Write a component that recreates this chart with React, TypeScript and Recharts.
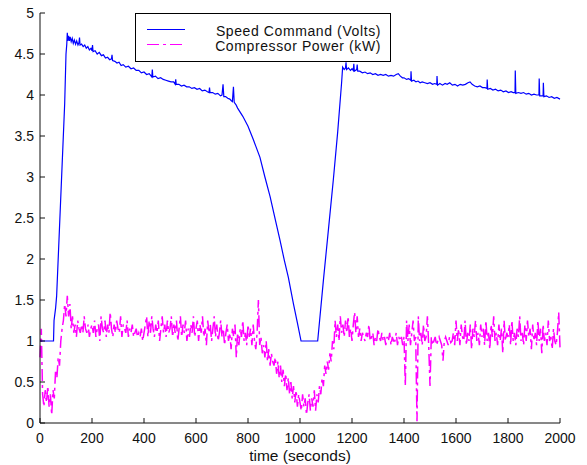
import { LineChart, Line, XAxis, YAxis, Legend } from 'recharts';

// speed command (Volts) at irregular times
const speedTime = [
  0, 52, 54, 60, 64, 95, 100, 103, 105, 107,
  110, 113, 116, 120, 124, 128, 132, 137, 141, 146, 150, 152, 154, 160, 166, 172, 178, 184, 190, 196,
  200, 202, 204, 212, 220, 228, 236, 244, 252, 260, 268, 275, 277, 279, 288, 296, 304, 312, 320, 330,
  340, 350, 360, 370, 380, 390, 400, 410, 420, 430, 432, 434, 444, 454, 464, 474, 484, 494, 504, 514,
  520, 522, 524, 534, 544, 554, 564, 574, 584, 594, 604, 614, 624, 634, 644, 650, 652, 654, 664, 674,
  684, 694, 700, 704, 707, 714, 722, 730, 736, 740, 744, 747, 754, 760,
  780, 800, 820, 846, 865, 885, 905, 923, 940, 955, 975, 990, 1004, 1068, 1090, 1110, 1128, 1145, 1160,
  1164, 1170, 1175, 1177, 1179, 1186, 1194, 1200, 1205, 1207, 1209, 1218, 1220, 1222, 1230, 1240, 1250, 1260, 1270, 1280,
  1290, 1300, 1310, 1320, 1330, 1340, 1350, 1360, 1370, 1378, 1386, 1394, 1400, 1410, 1418, 1426, 1427, 1429, 1438, 1446,
  1454, 1462, 1470, 1480, 1490, 1500, 1510, 1518, 1526, 1527, 1529, 1538, 1548, 1558, 1566, 1576, 1586, 1596, 1606, 1616,
  1626, 1636, 1646, 1654, 1662, 1672, 1682, 1692, 1702, 1712, 1719, 1720, 1722, 1732, 1742, 1752, 1762, 1772, 1782, 1792,
  1802, 1812, 1820, 1827, 1828, 1830, 1840, 1850, 1860, 1870, 1880, 1890, 1900, 1910, 1919, 1920, 1922, 1935, 1936, 1938,
  1948, 1958, 1968, 1978, 1988, 2000,
];
const speedVolts = [
  1.0, 1.0, 1.25, 1.4, 1.55, 3.9, 4.5, 4.62, 4.76, 4.66,
  4.72, 4.66, 4.71, 4.65, 4.69, 4.63, 4.67, 4.62, 4.66, 4.61, 4.64, 4.7, 4.61, 4.62, 4.59, 4.61, 4.57, 4.59, 4.55, 4.57,
  4.54, 4.61, 4.53, 4.54, 4.5, 4.52, 4.48, 4.49, 4.45, 4.46, 4.43, 4.44, 4.49, 4.42, 4.41, 4.39, 4.4, 4.36, 4.37, 4.34,
  4.35, 4.32, 4.33, 4.3, 4.3, 4.27, 4.28, 4.25, 4.26, 4.22, 4.31, 4.22, 4.23, 4.2, 4.21, 4.19, 4.18, 4.17, 4.16, 4.16,
  4.13, 4.19, 4.13, 4.13, 4.11, 4.12, 4.1, 4.1, 4.08, 4.09, 4.07, 4.08, 4.05, 4.06, 4.04, 4.03, 4.09, 4.03, 4.03, 4.01,
  4.02, 3.99, 4.0, 4.13, 3.98, 3.98, 3.96, 3.95, 3.93, 3.92, 4.1, 3.91, 3.88, 3.84,
  3.74, 3.62, 3.46, 3.24, 3.0, 2.76, 2.48, 2.23, 1.98, 1.78, 1.45, 1.22, 1.0, 1.0, 1.74, 2.38, 2.96, 3.55, 4.15,
  4.34, 4.31, 4.33, 4.4, 4.31, 4.33, 4.3, 4.32, 4.3, 4.38, 4.29, 4.31, 4.37, 4.29, 4.29, 4.27, 4.28, 4.26, 4.27, 4.25,
  4.26, 4.24, 4.25, 4.24, 4.25, 4.23, 4.24, 4.23, 4.25, 4.26, 4.23, 4.21, 4.21, 4.19, 4.2, 4.18, 4.29, 4.17, 4.18, 4.16,
  4.17, 4.15, 4.16, 4.15, 4.14, 4.15, 4.13, 4.14, 4.13, 4.23, 4.12, 4.14, 4.12, 4.14, 4.13, 4.15, 4.12, 4.13, 4.11, 4.13,
  4.12, 4.13, 4.15, 4.16, 4.13, 4.11, 4.1, 4.11, 4.09, 4.09, 4.08, 4.19, 4.07, 4.08, 4.06, 4.07, 4.05, 4.06, 4.04, 4.05,
  4.03, 4.04, 4.03, 4.03, 4.3, 4.02, 4.03, 4.02, 4.03, 4.01, 4.02, 4.0, 4.01, 4.0, 4.0, 4.2, 3.99, 3.99, 4.15, 3.98,
  3.99, 3.97, 3.98, 3.96, 3.97, 3.95,
];

// compressor power (kW), one reading every 5 seconds from 0 to 2000
const powerStep = 5;
const powerKw = [
  0.8, 1.15, 0.35, 0.2, 0.4, 0.25, 0.45, 0.2, 0.35, 0.1, 0.4,
  0.3, 0.65, 0.55, 0.8, 0.7, 1.0, 1.15, 1.25, 1.45, 1.3, 1.55, 1.3,
  1.45, 1.15, 1.3, 1.1, 1.2, 1.05, 1.25, 1.15, 1.1, 1.2, 1.1, 1.3, 1.15, 1.1, 1.2, 1.05, 1.15, 1.2,
  1.1, 1.25, 1.05, 1.15, 1.2, 1.0, 1.3, 1.15, 1.1, 1.25, 1.05, 1.2, 1.1, 1.35, 1.15, 1.05, 1.2, 1.1, 1.25, 1.15,
  1.1, 1.3, 1.05, 1.2, 1.15, 1.1, 1.25, 1.05, 1.15, 1.1, 1.2, 1.05, 1.1, 1.15, 1.05, 1.1, 1.05, 1.15, 1.0, 1.1,
  1.2, 1.3, 1.05, 1.25, 1.1, 1.3, 1.15, 1.05, 1.2, 1.1, 1.25, 1.0, 1.15, 1.3, 1.1, 1.2, 1.05, 1.25, 1.1, 1.15,
  1.3, 1.05, 1.2, 1.1, 1.25, 1.0, 1.15, 1.3, 1.05, 1.2, 1.1, 1.25, 1.0, 1.15, 1.05, 1.2, 1.1, 1.3, 1.05, 1.15,
  1.25, 1.0, 1.2, 1.1, 1.3, 1.05, 1.15, 0.95, 1.25, 1.1, 1.2, 1.0, 1.15, 1.3, 1.05, 1.2, 1.0, 1.1, 1.25, 1.05,
  1.15, 0.95, 1.1, 1.2, 1.0, 1.1, 0.9, 1.15, 1.05, 1.2, 0.8, 1.1, 0.95, 1.15, 1.05, 1.25, 1.0, 1.1, 0.95, 1.2,
  1.05, 1.15, 0.95, 1.2, 1.0, 0.9, 1.1, 1.5, 0.95, 1.05, 0.85, 0.95, 0.8, 1.0, 0.75, 0.9, 0.7, 0.85, 0.75, 0.7,
  0.8, 0.6, 0.75, 0.55, 0.7, 0.5, 0.65, 0.45, 0.6, 0.4, 0.55, 0.35, 0.5, 0.3, 0.45, 0.25, 0.4, 0.2, 0.35, 0.25,
  0.15, 0.35, 0.2, 0.3, 0.1, 0.25, 0.35, 0.15, 0.3, 0.2, 0.4, 0.15, 0.35, 0.25, 0.45, 0.35, 0.55, 0.45, 0.7, 0.6,
  0.75, 0.65, 0.85, 0.75, 1.0, 0.9, 1.25, 1.05, 1.2, 1.0, 1.3, 1.1, 1.2, 1.05, 1.25, 1.1, 1.3, 1.05, 1.15, 1.0,
  1.2, 1.35, 1.1, 1.3, 1.05, 1.15, 1.0, 1.1, 1.05, 1.0, 1.1, 1.05, 1.2, 1.0, 1.05, 1.1, 0.95, 1.05, 1.0, 1.15,
  1.05, 1.0, 1.1, 1.0, 1.05, 0.95, 1.05, 1.0, 1.1, 0.95, 1.05, 1.0, 1.0, 1.1, 0.95, 1.05, 1.0, 1.05, 0.95, 1.05,
  0.45, 1.25, 1.0, 1.2, 0.95, 1.1, 1.25, 1.0, 1.05, 0.02, 1.3, 1.0, 1.1, 0.95, 1.2, 1.0, 1.05, 1.3, 0.95, 0.45,
  1.05, 0.95, 1.0, 1.05, 0.95, 1.0, 1.05, 1.0, 0.95, 0.76, 1.0, 1.05, 1.0, 0.95, 1.05, 0.98, 1.0, 1.1, 0.95, 1.25,
  1.0, 1.15, 0.95, 1.2, 1.05, 1.0, 1.25, 0.95, 1.1, 1.0, 1.2, 0.9, 1.15, 1.05, 1.25, 1.0, 1.1, 0.95, 1.2, 1.05,
  1.15, 0.95, 1.25, 1.0, 1.1, 0.9, 1.2, 1.05, 1.3, 1.0, 1.1, 0.95, 1.2, 1.0, 1.15, 0.85, 1.25, 1.0, 1.1, 1.05,
  1.2, 0.95, 1.25, 1.0, 1.1, 0.95, 1.15, 1.05, 1.3, 1.0, 1.1, 0.95, 1.2, 1.0, 1.25, 1.05, 1.15, 0.9, 1.2, 1.0,
  1.1, 0.95, 1.25, 1.0, 1.15, 0.85, 1.2, 1.0, 1.1, 0.95, 1.25, 1.0, 1.05, 0.9, 1.15, 1.0, 0.95, 1.1, 1.35, 0.92,
];

const timeTicks = [0, 200, 400, 600, 800, 1000, 1200, 1400, 1600, 1800, 2000];
const valueTicks = [0, 0.5, 1, 1.5, 2, 2.5, 3, 3.5, 4, 4.5, 5];

const seriesNames = ['Speed Command (Volts)', 'Compressor Power (kW)'];
const seriesColors = ['#0000ff', '#ff00ff'];

const speedData = speedTime.map((t, i) => ({ t, v: speedVolts[i] }));
const powerData = powerKw.map((v, i) => ({ t: i * powerStep, v }));

const FONT = '"Liberation Sans", Arial, Helvetica, sans-serif';
const INK = '#111';
const DASH = '12 4 3 4';

const BottomTick = (props: any) => {
  const { x, y, payload } = props;
  return (
    <g>
      <line x1={x} y1={y} x2={x} y2={y - 5} stroke={INK} />
      <text x={x} y={y + 20} textAnchor="middle" fontSize={14} fontFamily={FONT} fill={INK}>
        {payload.value}
      </text>
    </g>
  );
};

const LeftTick = (props: any) => {
  const { x, y, payload } = props;
  return (
    <g>
      <line x1={x} y1={y} x2={x + 5} y2={y} stroke={INK} />
      <text x={x - 6} y={y + 5} textAnchor="end" fontSize={14} fontFamily={FONT} fill={INK}>
        {payload.value}
      </text>
    </g>
  );
};

const TopTick = (props: any) => {
  const { x, y } = props;
  return <line x1={x} y1={y} x2={x} y2={y + 5} stroke={INK} />;
};

const RightTick = (props: any) => {
  const { x, y } = props;
  return <line x1={x} y1={y} x2={x - 5} y2={y} stroke={INK} />;
};

const renderLegend = () => (
  <svg width={256} height={49} style={{ display: 'block' }}>
    <rect x={0.5} y={0.5} width={255} height={48} fill="#fff" stroke="#000" />
    <line x1={12} y1={16.5} x2={50} y2={16.5} stroke={seriesColors[0]} strokeWidth={1.2} />
    <line x1={12} y1={31.5} x2={50} y2={31.5} stroke={seriesColors[1]} strokeWidth={1.2} strokeDasharray={DASH} />
    <text x={246} y={23} textAnchor="end" fontSize={14} letterSpacing={0.6} fontFamily={FONT} fill={INK}>
      {seriesNames[0]}
    </text>
    <text x={246} y={38} textAnchor="end" fontSize={14} letterSpacing={0.6} fontFamily={FONT} fill={INK}>
      {seriesNames[1]}
    </text>
  </svg>
);

export default function App() {
  return (
    <div style={{ position: 'absolute', left: 0, top: 0, background: '#fff' }}>
      <LineChart width={587} height={465} margin={{ top: 13, right: 27, left: 0, bottom: 0 }}>
        <XAxis
          dataKey="t"
          type="number"
          domain={[0, 2000]}
          ticks={timeTicks}
          height={42}
          tickSize={0}
          tickMargin={0}
          tickLine={false}
          tick={<BottomTick />}
          axisLine={{ stroke: INK }}
          label={{ value: 'time (seconds)', position: 'insideBottom', offset: 4, fontSize: 15.5, fontFamily: FONT, fill: INK }}
        />
        <XAxis
          xAxisId="top"
          orientation="top"
          dataKey="t"
          type="number"
          domain={[0, 2000]}
          ticks={timeTicks}
          height={0}
          tickSize={0}
          tickMargin={0}
          tickLine={false}
          tick={<TopTick />}
          axisLine={{ stroke: INK }}
        />
        <YAxis
          type="number"
          domain={[0, 5]}
          ticks={valueTicks}
          width={40}
          tickSize={0}
          tickMargin={0}
          tickLine={false}
          tick={<LeftTick />}
          axisLine={{ stroke: INK }}
        />
        <YAxis
          yAxisId="right"
          orientation="right"
          type="number"
          domain={[0, 5]}
          ticks={valueTicks}
          width={0}
          tickSize={0}
          tickMargin={0}
          tickLine={false}
          tick={<RightTick />}
          axisLine={{ stroke: INK }}
        />
        <Legend
          layout="horizontal"
          verticalAlign="middle"
          align="center"
          wrapperStyle={{ left: 135, top: 13, width: 256, height: 49 }}
          content={renderLegend}
        />
        <Line
          data={powerData}
          dataKey="v"
          name={seriesNames[1]}
          type="linear"
          stroke={seriesColors[1]}
          strokeWidth={1.5}
          strokeDasharray={DASH}
          dot={false}
          activeDot={false}
          isAnimationActive={false}
        />
        <Line
          data={speedData}
          dataKey="v"
          name={seriesNames[0]}
          type="linear"
          stroke={seriesColors[0]}
          strokeWidth={1.2}
          dot={false}
          activeDot={false}
          isAnimationActive={false}
        />
      </LineChart>
    </div>
  );
}
